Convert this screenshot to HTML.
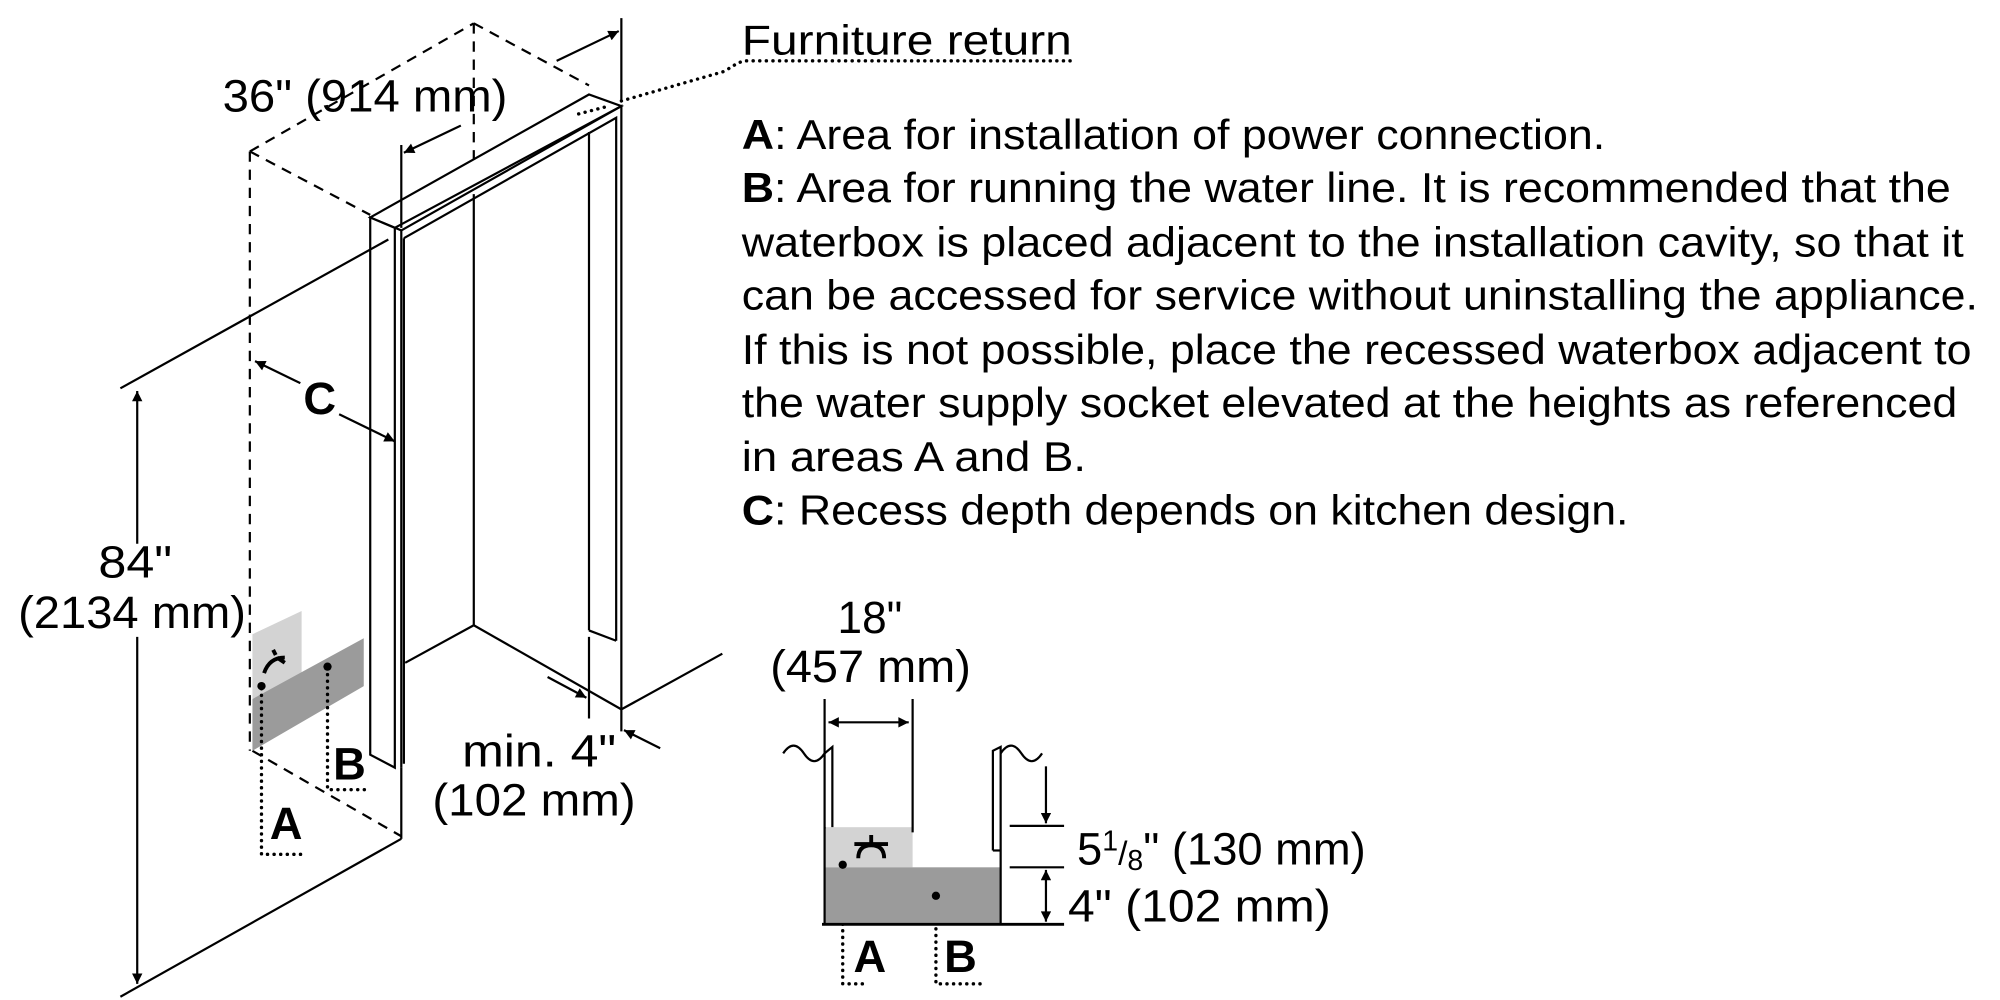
<!DOCTYPE html>
<html><head><meta charset="utf-8"><style>
html,body{margin:0;padding:0;background:#fff;}
svg{display:block;}
text{font-family:"Liberation Sans",Arial,sans-serif;fill:#000;}
</style></head><body>
<svg width="2000" height="1000" viewBox="0 0 1545 772.5" preserveAspectRatio="none" xmlns="http://www.w3.org/2000/svg">
<defs>
<marker id="ar" viewBox="0 0 10 10" refX="10" refY="5" markerWidth="13" markerHeight="8" markerUnits="userSpaceOnUse" orient="auto-start-reverse"><path d="M0,0 L10,5 L0,10 z" fill="#000"/></marker>
</defs>
<g fill="none" stroke="#000" stroke-width="1.7">
<g stroke-dasharray="8,6">
<line x1="193" y1="117" x2="366" y2="18"/>
<line x1="366" y1="18" x2="455" y2="66"/>
<line x1="366" y1="18" x2="366" y2="135"/>
<line x1="193" y1="117" x2="286" y2="166"/>
<line x1="193" y1="117" x2="193" y2="580"/>
<line x1="195" y1="580" x2="310" y2="646"/>
</g>
<polygon points="286,168 455,73 480,82 310,178" fill="#fff"/>
<polygon points="286,168 305,176 305,593 286,583" fill="#fff"/>
<line x1="310" y1="178" x2="310" y2="593"/>
<polyline points="305,176 480,82 480,548"/>
<polyline points="312,184 476,91 476,495"/>
<line x1="312" y1="184" x2="312" y2="590"/>
<line x1="366" y1="150" x2="366" y2="483"/>
<line x1="366" y1="483" x2="313" y2="512"/>
<line x1="366" y1="483" x2="480" y2="548"/>
<line x1="455" y1="102" x2="455" y2="487"/>
<line x1="455" y1="487" x2="476" y2="495"/>
<line x1="480" y1="548" x2="558" y2="505"/>
<line x1="310" y1="593" x2="310" y2="648"/>
<line x1="310" y1="648" x2="93" y2="770"/>
<line x1="93" y1="300" x2="300" y2="185"/>
<line x1="480" y1="14" x2="480" y2="78"/>
<line x1="310" y1="112" x2="310" y2="176"/>
<line x1="430" y1="47" x2="478" y2="24" marker-end="url(#ar)"/>
<line x1="356" y1="97" x2="312" y2="118" marker-end="url(#ar)"/>
<line x1="106" y1="302" x2="106" y2="420" marker-start="url(#ar)"/>
<line x1="106" y1="492" x2="106" y2="760" marker-end="url(#ar)"/>
<line x1="232" y1="296" x2="197" y2="279" marker-end="url(#ar)"/>
<line x1="262" y1="320" x2="305" y2="341" marker-end="url(#ar)"/>
<line x1="423" y1="523" x2="453" y2="539" marker-end="url(#ar)"/>
<line x1="510" y1="578" x2="482" y2="564" marker-end="url(#ar)"/>
<line x1="455" y1="492" x2="455" y2="555"/>
<line x1="480" y1="548" x2="480" y2="565"/>
</g>
<polygon points="195,490 233,472 233,520 195,540" fill="#d3d3d3"/>
<polygon points="195,540 281,493 281,530 195,580" fill="#9b9b9b"/>
<path d="M204,520 q4,-12 16,-12 M214,508 l6,4 M213,506 l-2,-4" stroke="#000" stroke-width="3" fill="none"/>
<g fill="none" stroke="#000" stroke-width="2.6" stroke-dasharray="0.1,5" stroke-linecap="round">
<polyline points="202,532 202,660 236,660"/>
<polyline points="253,516 253,610 284,610"/>
<polyline points="651,668 651,760 670,760"/>
<polyline points="723,692 723,760 760,760"/>
<path d="M480,78 L560,55 Q570,48 575,47 L828,47"/>
<line x1="447" y1="88" x2="470" y2="82"/>
</g>
<circle cx="202" cy="530" r="3.2" fill="#000"/>
<circle cx="253" cy="515" r="3.2" fill="#000"/>
<rect x="637" y="639" width="68" height="31" fill="#d3d3d3"/>
<rect x="637" y="670" width="136" height="44" fill="#9b9b9b"/>
<g fill="none" stroke="#000" stroke-width="1.7">
<line x1="637" y1="540" x2="637" y2="640"/>
<line x1="705" y1="540" x2="705" y2="643"/>
<line x1="640" y1="558" x2="702" y2="558" marker-start="url(#ar)" marker-end="url(#ar)"/>
<path d="M605,582 q8,-12 16,0 t16,0"/>
<polyline points="637,582 643,577 643,639"/>
<path d="M773,582 q8,-12 16,0 t16,0"/>
<polyline points="767,657 767,580 773,577 773,714"/>
<line x1="767" y1="657" x2="773" y2="657"/>
<line x1="637" y1="639" x2="637" y2="714"/>
<line x1="635" y1="714" x2="822" y2="714" stroke-width="2.2"/>
<line x1="780" y1="638" x2="822" y2="638"/>
<line x1="780" y1="670" x2="822" y2="670"/>
<line x1="808" y1="592" x2="808" y2="636" marker-end="url(#ar)"/>
<line x1="808" y1="672" x2="808" y2="712" marker-start="url(#ar)" marker-end="url(#ar)"/>
</g>
<path d="M663,663 q0,-10 10,-10 q10,0 10,10 M660,652 h26 M673,653 v-8" stroke="#000" stroke-width="3" fill="none"/>
<circle cx="651" cy="668" r="3.2" fill="#000"/>
<circle cx="723" cy="692" r="3.2" fill="#000"/>
<g font-size="35" lengthAdjust="spacingAndGlyphs">
<text x="172" y="86" textLength="220" lengthAdjust="spacingAndGlyphs">36" (914 mm)</text>
<text x="76" y="446" textLength="57" lengthAdjust="spacingAndGlyphs">84"</text>
<text x="14" y="485" textLength="176" lengthAdjust="spacingAndGlyphs">(2134 mm)</text>
<text x="357" y="592" textLength="119" lengthAdjust="spacingAndGlyphs">min. 4"</text>
<text x="334" y="630" textLength="157" lengthAdjust="spacingAndGlyphs">(102 mm)</text>
<text x="647" y="489" textLength="50" lengthAdjust="spacingAndGlyphs">18"</text>
<text x="595" y="527" textLength="155" lengthAdjust="spacingAndGlyphs">(457 mm)</text>
<text x="832" y="668">5<tspan font-size="22" dy="-11">1</tspan><tspan font-size="26" dy="11">/</tspan><tspan font-size="22" dy="4">8</tspan><tspan dy="-4">" (130 mm)</tspan></text>
<text x="825" y="712" textLength="203" lengthAdjust="spacingAndGlyphs">4" (102 mm)</text>
</g>
<g font-size="35" font-weight="bold">
<text x="247" y="320" text-anchor="middle">C</text>
<text x="221" y="648" text-anchor="middle">A</text>
<text x="270" y="602" text-anchor="middle">B</text>
<text x="672" y="751" text-anchor="middle">A</text>
<text x="742" y="751" text-anchor="middle">B</text>
</g>
<g font-size="32">
<text x="573" y="42" textLength="255" lengthAdjust="spacingAndGlyphs">Furniture return</text>
<text x="573" y="115" textLength="667" lengthAdjust="spacingAndGlyphs"><tspan font-weight="bold">A</tspan>: Area for installation of power connection.</text>
<text x="573" y="156" textLength="934" lengthAdjust="spacingAndGlyphs"><tspan font-weight="bold">B</tspan>: Area for running the water line. It is recommended that the</text>
<text x="573" y="198" textLength="944" lengthAdjust="spacingAndGlyphs">waterbox is placed adjacent to the installation cavity, so that it</text>
<text x="573" y="239" textLength="955" lengthAdjust="spacingAndGlyphs">can be accessed for service without uninstalling the appliance.</text>
<text x="573" y="281" textLength="950" lengthAdjust="spacingAndGlyphs">If this is not possible, place the recessed waterbox adjacent to</text>
<text x="573" y="322" textLength="939" lengthAdjust="spacingAndGlyphs">the water supply socket elevated at the heights as referenced</text>
<text x="573" y="364" textLength="266" lengthAdjust="spacingAndGlyphs">in areas A and B.</text>
<text x="573" y="405" textLength="685" lengthAdjust="spacingAndGlyphs"><tspan font-weight="bold">C</tspan>: Recess depth depends on kitchen design.</text>
</g>
</svg>
</body></html>
